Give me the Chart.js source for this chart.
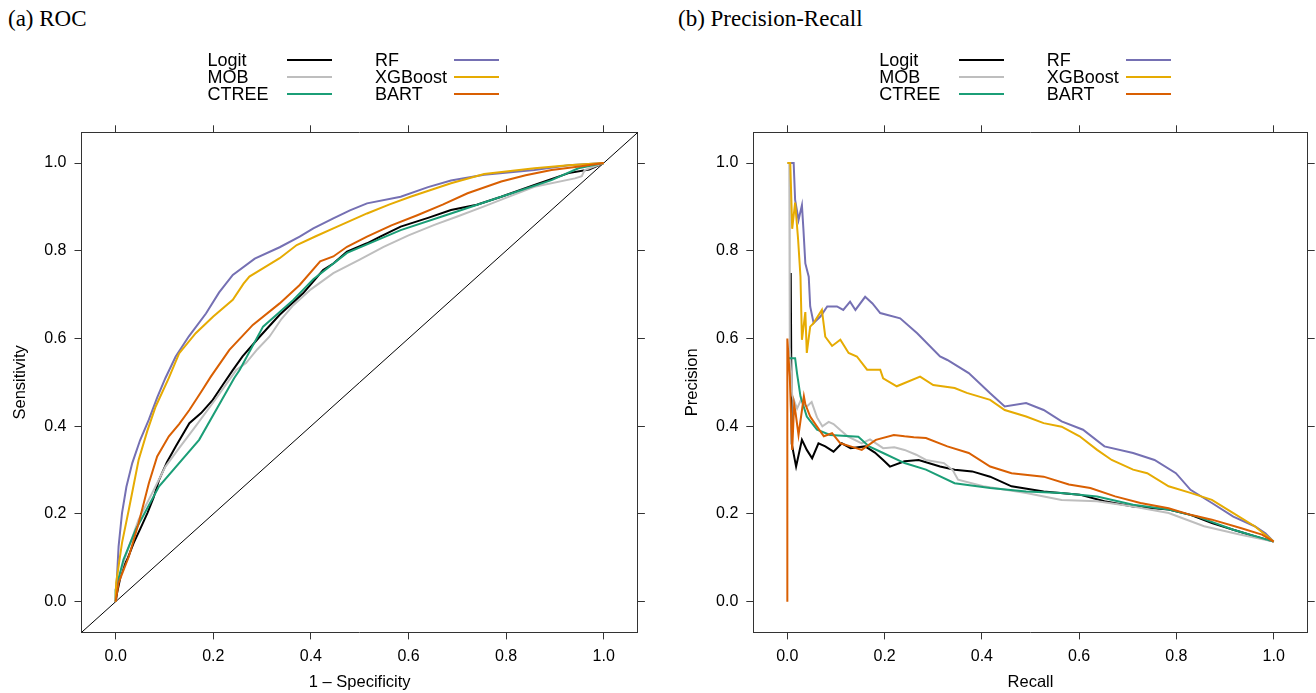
<!DOCTYPE html>
<html>
<head>
<meta charset="utf-8">
<script src="https://cdn.jsdelivr.net/npm/chart.js@4.4.1/dist/chart.umd.min.js"></script>
<style>
  body { margin: 0; background: #fff; width: 1316px; height: 693px; overflow: hidden; position: relative; }
  canvas { position: absolute; top: 0; }
  #rocCanvas { left: 0; }
  #prCanvas { left: 672px; }
  .panel-title { position: absolute; top: 7px; font: 23px 'Liberation Serif', 'Times New Roman', serif; line-height: 23px; white-space: nowrap; }
  .leg-text { position: absolute; font: 18px 'Liberation Sans', Arial, sans-serif; line-height: 17px; white-space: nowrap; color: #000; }
  .leg-line { position: absolute; height: 2px; width: 45px; }
</style>
</head>
<body>
<div class="panel-title" style="left:8px">(a) ROC</div>
<div class="panel-title" style="left:678px">(b) Precision-Recall</div>
<canvas id="rocCanvas" width="658" height="693"></canvas>
<canvas id="prCanvas" width="644" height="693"></canvas>
<div id="legends"></div>
<script>
// model names and colours
const modelNames = ['Logit', 'MOB', 'CTREE', 'RF', 'XGBoost', 'BART'];
const modelColors = ['#000000', '#bebebe', '#1b9e77', '#7570b3', '#e6ab02', '#d95f02'];
const tickValues = [0, 0.2, 0.4, 0.6, 0.8, 1.0];

// ROC curves: [1 - specificity, sensitivity]
const rocLogit = [[0,0],[.003,.020],[.013,.073],[.025,.100],[.037,.134],[.052,.170],[.065,.202],[.078,.238],[.089,.278],[.105,.318],[.123,.354],[.151,.407],[.175,.430],[.199,.460],[.220,.495],[.240,.528],[.260,.559],[.295,.604],[.336,.654],[.384,.703],[.425,.756],[.446,.771],[.474,.798],[.515,.817],[.542,.832],[.584,.855],[.640,.875],[.687,.893],[.740,.905],[.790,.923],[.858,.950],[.928,.977],[.970,.985],[1,1]];
const rocMob = [[0,0],[0,.030],[.020,.103],[.047,.187],[.075,.248],[.102,.308],[.130,.350],[.164,.400],[.205,.462],[.247,.528],[.267,.544],[.290,.575],[.315,.604],[.340,.645],[.364,.676],[.400,.712],[.446,.749],[.500,.780],[.549,.809],[.600,.835],[.653,.859],[.700,.878],[.755,.901],[.810,.925],[.858,.946],[.941,.965],[.955,.970],[.961,.984],[1,1]];
const rocCtree = [[0,0],[0,.027],[.016,.096],[.041,.164],[.089,.263],[.171,.369],[.243,.510],[.254,.528],[.302,.627],[.364,.688],[.405,.735],[.474,.795],[.584,.847],[.687,.885],[.790,.923],[.893,.961],[.948,.988],[1,1]];
const rocRf = [[0,0],[.006,.126],[.013,.202],[.022,.262],[.034,.316],[.050,.368],[.068,.415],[.085,.465],[.102,.510],[.123,.559],[.150,.605],[.185,.657],[.212,.705],[.240,.745],[.285,.782],[.336,.808],[.377,.832],[.405,.851],[.446,.874],[.480,.892],[.515,.908],[.584,.923],[.640,.945],[.687,.960],[.755,.973],[.858,.984],[.928,.995],[1,1]];
const rocXgb = [[0,0],[.001,.043],[.013,.134],[.027,.210],[.047,.323],[.065,.390],[.082,.445],[.109,.510],[.130,.566],[.164,.612],[.200,.650],[.240,.688],[.262,.725],[.274,.741],[.305,.762],[.336,.783],[.371,.813],[.410,.833],[.446,.851],[.515,.885],[.560,.905],[.604,.923],[.687,.954],[.755,.975],[.858,.988],[.928,.995],[1,1]];
const rocBart = [[0,0],[.006,.043],[.027,.103],[.047,.179],[.068,.270],[.085,.331],[.109,.377],[.130,.405],[.151,.437],[.175,.478],[.195,.513],[.233,.574],[.281,.631],[.336,.680],[.377,.722],[.419,.776],[.446,.787],[.474,.809],[.515,.832],[.565,.858],[.618,.881],[.670,.905],[.721,.931],[.790,.958],[.840,.972],[.893,.984],[.950,.992],[1,1]];

// Precision-Recall curves: [recall, precision]
const prLogit = [[.007,.749],[.009,.360],[.018,.308],[.030,.369],[.040,.346],[.051,.327],[.064,.361],[.078,.354],[.095,.342],[.112,.361],[.130,.350],[.160,.354],[.180,.340],[.197,.323],[.211,.308],[.241,.320],[.270,.323],[.314,.308],[.344,.301],[.380,.297],[.417,.285],[.461,.263],[.527,.251],[.601,.244],[.652,.229],[.711,.217],[.784,.210],[.829,.198],[.873,.179],[.917,.164],[.961,.149],[1,.137]];
const prMob = [[0,1],[.004,1],[.005,.580],[.010,.470],[.020,.440],[.028,.460],[.040,.445],[.050,.455],[.061,.420],[.072,.400],[.085,.410],[.095,.405],[.110,.390],[.124,.377],[.153,.361],[.170,.370],[.197,.350],[.220,.352],[.241,.346],[.265,.335],[.285,.323],[.322,.316],[.340,.300],[.351,.278],[.403,.263],[.491,.248],[.564,.232],[.637,.229],[.711,.217],[.784,.202],[.857,.172],[.930,.153],[1,.137]];
const prCtree = [[0,.555],[.016,.555],[.020,.520],[.027,.468],[.040,.422],[.061,.392],[.088,.380],[.130,.377],[.146,.376],[.168,.354],[.197,.339],[.241,.316],[.285,.301],[.344,.270],[.417,.259],[.491,.251],[.564,.248],[.637,.240],[.711,.221],[.784,.210],[.843,.194],[.917,.164],[1,.137]];
const prRf = [[.003,1],[.013,1],[.016,.916],[.023,.870],[.030,.904],[.033,.850],[.037,.771],[.044,.741],[.047,.673],[.054,.635],[.068,.650],[.082,.673],[.102,.673],[.115,.665],[.129,.684],[.140,.665],[.160,.695],[.175,.680],[.191,.658],[.232,.646],[.267,.612],[.314,.559],[.329,.551],[.373,.521],[.417,.475],[.447,.445],[.491,.453],[.527,.437],[.564,.411],[.608,.392],[.652,.354],[.711,.339],[.755,.323],[.799,.293],[.829,.255],[.873,.225],[.917,.194],[.961,.172],[.983,.156],[1,.137]];
const prXgb = [[0,1],[.006,1],[.010,.850],[.016,.910],[.022,.828],[.027,.741],[.030,.597],[.037,.660],[.040,.567],[.047,.627],[.054,.635],[.071,.665],[.078,.604],[.092,.583],[.109,.597],[.126,.567],[.143,.559],[.164,.529],[.191,.529],[.197,.509],[.225,.491],[.273,.513],[.300,.494],[.344,.487],[.369,.476],[.417,.460],[.447,.437],[.491,.422],[.527,.407],[.564,.399],[.601,.377],[.637,.346],[.667,.323],[.711,.301],[.740,.293],[.784,.263],[.829,.248],[.873,.232],[.917,.202],[.961,.172],[1,.137]];
const prBart = [[0,0],[0,.600],[.005,.513],[.010,.346],[.014,.450],[.017,.430],[.023,.380],[.034,.468],[.037,.450],[.047,.422],[.061,.399],[.075,.377],[.092,.384],[.109,.361],[.130,.354],[.153,.346],[.182,.369],[.219,.380],[.241,.377],[.260,.375],[.285,.373],[.329,.354],[.373,.339],[.417,.308],[.461,.293],[.527,.285],[.579,.267],[.623,.259],[.674,.240],[.726,.225],[.784,.213],[.829,.198],[.873,.187],[.932,.168],[.976,.153],[1,.137]];

const rocCurves = [rocLogit, rocMob, rocCtree, rocRf, rocXgb, rocBart];
const prCurves = [prLogit, prMob, prCtree, prRf, prXgb, prBart];
const diagonal = [[-0.07, -0.07], [1.07, 1.07]];

const axisColor = '#333';
const tickFont = { family: "'Liberation Sans', Arial, sans-serif", size: 16 };
const titleFont = { family: "'Liberation Sans', Arial, sans-serif", size: 16.5 };

function toPoints(arr) {
    return arr.map(p => ({ x: p[0], y: p[1] }));
}

function setTicks(axis) {
    axis.ticks = tickValues.map(v => ({ value: v }));
}

function makeAxis(position, size, labels, title) {
    const horizontal = position === 'top' || position === 'bottom';
    return {
        type: 'linear',
        position: position,
        min: -0.07,
        max: 1.07,
        afterBuildTicks: setTicks,
        afterFit: s => { if (horizontal) s.height = size; else s.width = size; },
        ticks: {
            display: labels,
            color: '#000',
            font: tickFont,
            padding: 8,
            maxRotation: 0,
            autoSkip: false,
            callback: v => v.toFixed(1)
        },
        grid: { drawOnChartArea: false, drawTicks: true, tickLength: 7, color: axisColor, lineWidth: 1 },
        border: { display: true, color: axisColor, width: 1 },
        title: title ? { display: true, text: title, color: '#000', font: titleFont, padding: horizontal ? { top: 0, bottom: 1 } : { top: 11, bottom: 0 } } : { display: false }
    };
}

function makeChart(canvasId, curves, extra, xTitle, yTitle, leftW, rightW) {
    const datasets = curves.map((c, i) => ({
        label: modelNames[i],
        data: toPoints(c),
        borderColor: modelColors[i],
        borderWidth: 2,
        pointRadius: 0,
        tension: 0,
        fill: false,
        order: 6 - i
    }));
    if (extra) {
        datasets.push({
            label: 'diagonal',
            data: toPoints(extra),
            borderColor: '#000',
            borderWidth: 1,
            pointRadius: 0,
            fill: false,
            order: 10
        });
    }
    return new Chart(document.getElementById(canvasId), {
        type: 'line',
        data: { datasets: datasets },
        options: {
            responsive: false,
            animation: false,
            layout: { padding: 0 },
            plugins: { legend: { display: false }, tooltip: { enabled: false } },
            scales: {
                x: makeAxis('bottom', 693 - 632.4, true, xTitle),
                x2: makeAxis('top', 132.3, false, null),
                y: makeAxis('left', leftW, true, yTitle),
                y2: makeAxis('right', rightW, false, null)
            }
        }
    });
}

makeChart('rocCanvas', rocCurves, diagonal, '1 \u2013 Specificity', 'Sensitivity', 81.5, 658 - 637.9);
makeChart('prCanvas', prCurves, null, 'Recall', 'Precision', 81.3, 644 - 635.7);

// legends: two columns of three, text then line sample
function buildLegend(textLeft) {
    const host = document.getElementById('legends');
    modelNames.forEach((name, i) => {
        const col = Math.floor(i / 3);
        const row = i % 3;
        const x = textLeft + col * 167.5;
        const yLine = 60 + row * 17.2;
        const t = document.createElement('div');
        t.className = 'leg-text';
        t.textContent = name;
        t.style.left = x + 'px';
        t.style.top = (yLine - 8.3) + 'px';
        host.appendChild(t);
        const l = document.createElement('div');
        l.className = 'leg-line';
        l.style.left = (x + 79.2) + 'px';
        l.style.top = (yLine - 1) + 'px';
        l.style.background = modelColors[i];
        host.appendChild(l);
    });
}
buildLegend(207.5);
buildLegend(879.3);
</script>
</body>
</html>
